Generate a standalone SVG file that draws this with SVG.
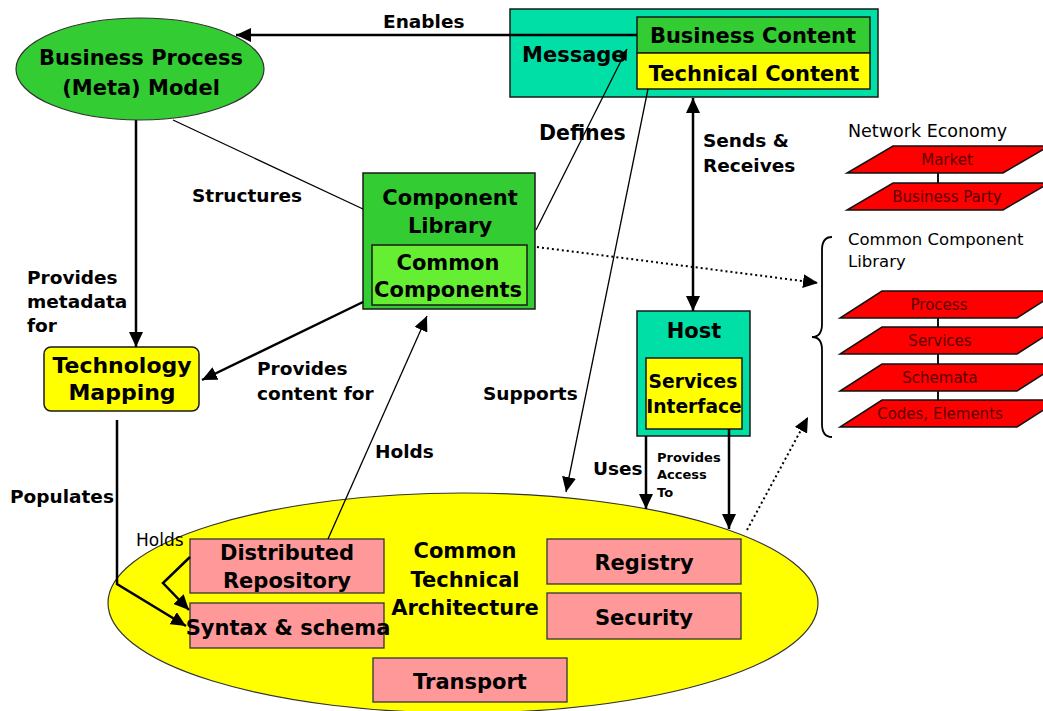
<svg xmlns="http://www.w3.org/2000/svg" width="1043" height="711" viewBox="0 0 1043 711">
  <style>
    .b { font-family: "DejaVu Sans", Verdana, sans-serif; font-weight: bold; fill: #000; }
    .r { font-family: "DejaVu Sans", Verdana, sans-serif; font-weight: normal; fill: #000; }
    .node { font-size: 21px; }
    .lbl { font-size: 18.5px; }
    .mid { text-anchor: middle; }
    .layer { font-family: "DejaVu Sans", Verdana, sans-serif; font-size: 15px; fill: #5a0000; text-anchor: middle; }
    .box { stroke: #1a1a1a; stroke-width: 1.5; }
    .pink { fill: #ff9999; stroke: #333; stroke-width: 1.3; }
    .para { fill: #ff0000; stroke: #111; stroke-width: 1.5; }
    .thick { stroke: #000; stroke-width: 2.5; fill: none; }
    .thin { stroke: #000; stroke-width: 1.3; fill: none; }
    .dot { stroke: #000; stroke-width: 2; fill: none; stroke-dasharray: 2 3; }
  </style>
  <defs>
    <marker id="arr" markerUnits="userSpaceOnUse" markerWidth="16" markerHeight="14" refX="15" refY="7" orient="auto-start-reverse">
      <path d="M0,0 L15,7 L0,14 z" fill="#000"/>
    </marker>
    <marker id="arrS" markerUnits="userSpaceOnUse" markerWidth="12" markerHeight="10" refX="11" refY="5" orient="auto">
      <path d="M0,0 L11,5 L0,10 z" fill="#000"/>
    </marker>
  </defs>

  <rect width="1043" height="711" fill="#fff"/>

  <!-- Common Technical Architecture (background ellipse) -->
  <g id="cta">
    <ellipse cx="463" cy="603" rx="355" ry="110" fill="#ffff00" stroke="#333" stroke-width="1.2"/>
    <text class="b node mid" x="465" y="558">Common</text>
    <text class="b node mid" x="465" y="587">Technical</text>
    <text class="b node mid" x="465" y="615">Architecture</text>
  </g>
  <g id="distributed-repository">
    <rect class="pink" x="190" y="539" width="194" height="54"/>
    <text class="b node mid" x="287" y="560">Distributed</text>
    <text class="b node mid" x="287" y="588">Repository</text>
  </g>
  <g id="syntax-schema">
    <rect class="pink" x="190" y="603" width="194" height="45"/>
    <text class="b node mid" x="288" y="635">Syntax &amp; schema</text>
  </g>
  <g id="registry">
    <rect class="pink" x="547" y="539" width="194" height="45"/>
    <text class="b node mid" x="644" y="570">Registry</text>
  </g>
  <g id="security">
    <rect class="pink" x="547" y="593" width="194" height="46"/>
    <text class="b node mid" x="644" y="625">Security</text>
  </g>
  <g id="transport">
    <rect class="pink" x="373" y="658" width="194" height="44"/>
    <text class="b node mid" x="470" y="689">Transport</text>
  </g>

  <!-- Business Process (Meta) Model -->
  <g id="bpm">
    <ellipse cx="140" cy="69" rx="124" ry="51" fill="#33cc33" stroke="#333" stroke-width="1.2"/>
    <text class="b node mid" x="141" y="65">Business Process</text>
    <text class="b node mid" x="141" y="95">(Meta) Model</text>
  </g>

  <!-- Message -->
  <g id="message">
    <rect class="box" x="510" y="9" width="368" height="88" fill="#00e0a6"/>
    <text class="b node" x="522" y="62" font-size="20.5">Message</text>
    <rect class="box" x="637" y="17" width="233" height="36" fill="#33cc33"/>
    <rect class="box" x="637" y="53" width="233" height="36" fill="#ffff00"/>
    <text class="b node mid" x="753" y="43">Business Content</text>
    <text class="b node mid" x="754" y="81">Technical Content</text>
  </g>

  <!-- Component Library -->
  <g id="component-library">
    <rect class="box" x="363" y="173" width="172" height="136" fill="#33cc33" stroke-width="2"/>
    <text class="b node mid" x="450" y="205">Component</text>
    <text class="b node mid" x="450" y="233">Library</text>
    <rect class="box" x="372" y="245" width="155" height="60" fill="#66ee33" stroke-width="2"/>
    <text class="b node mid" x="448" y="270">Common</text>
    <text class="b node mid" x="448" y="297">Components</text>
  </g>

  <!-- Technology Mapping -->
  <g id="technology-mapping">
    <rect class="box" x="44" y="347" width="155" height="64" rx="7" fill="#ffff00"/>
    <text class="b mid" x="122" y="373" font-size="22">Technology</text>
    <text class="b mid" x="122" y="400" font-size="22">Mapping</text>
  </g>

  <!-- Host -->
  <g id="host">
    <rect class="box" x="637" y="311" width="113" height="125" fill="#00e0a6"/>
    <text class="b node mid" x="694" y="338">Host</text>
    <rect class="box" x="646" y="358" width="96" height="71" fill="#ffff00"/>
    <text class="b mid" x="693" y="388" font-size="18.7">Services</text>
    <text class="b mid" x="694" y="413" font-size="18.7">Interface</text>
  </g>

  <!-- Network Economy stack -->
  <g id="network-economy">
    <text class="r" x="848" y="137" font-size="17.5">Network Economy</text>
    <line x1="938" y1="173" x2="938" y2="183" stroke="#111" stroke-width="2"/>
    <polygon class="para" points="893,146 1049,146 1003,173 847,173"/>
    <polygon class="para" points="893,183 1049,183 1003,210 847,210"/>
    <text class="layer" x="947" y="165">Market</text>
    <text class="layer" x="947" y="202">Business Party</text>
  </g>

  <!-- Common Component Library stack -->
  <g id="common-component-library">
    <text class="r" x="848" y="245" font-size="16.5">Common Component</text>
    <text class="r" x="848" y="267" font-size="16.5">Library</text>
    <path d="M832,237 Q822,237 822,250 L822,324 Q822,337 812,337 Q822,337 822,350 L822,424 Q822,437 832,437" fill="none" stroke="#000" stroke-width="1.8"/>
    <line x1="938" y1="318" x2="938" y2="400" stroke="#111" stroke-width="2"/>
    <polygon class="para" points="882,291 1059,291 1017,318 840,318"/>
    <polygon class="para" points="882,327 1059,327 1017,354 840,354"/>
    <polygon class="para" points="882,364 1059,364 1017,391 840,391"/>
    <polygon class="para" points="882,400 1059,400 1017,427 840,427"/>
    <text class="layer" x="939" y="310">Process</text>
    <text class="layer" x="940" y="346">Services</text>
    <text class="layer" x="940" y="383">Schemata</text>
    <text class="layer" x="940" y="419">Codes, Elements</text>
  </g>

  <!-- Connectors -->
  <g id="connectors">
    <line class="thick" x1="637" y1="35" x2="236" y2="35" marker-end="url(#arr)"/>
    <line class="thick" x1="136" y1="120" x2="136" y2="347" marker-end="url(#arr)"/>
    <line class="thin" x1="173" y1="120" x2="363" y2="209"/>
    <line class="thin" x1="536" y1="230" x2="627" y2="49" marker-end="url(#arrS)"/>
    <line class="thin" x1="648" y1="89" x2="566" y2="492" marker-end="url(#arr)"/>
    <line class="thick" x1="693" y1="98" x2="693" y2="311" marker-start="url(#arr)" marker-end="url(#arr)"/>
    <line class="dot" x1="537" y1="247" x2="818" y2="283" marker-end="url(#arr)"/>
    <line class="thick" x1="363" y1="302" x2="202" y2="380" marker-end="url(#arr)"/>
    <line class="thin" x1="328" y1="539" x2="427" y2="316" marker-end="url(#arr)"/>
    <polyline class="thick" points="117,420 117,584 186,626" marker-end="url(#arr)"/>
    <polyline class="thick" points="190,557 163,583 189,610" marker-end="url(#arr)"/>
    <line class="thick" x1="646" y1="436" x2="646" y2="509" marker-end="url(#arr)"/>
    <line class="thick" x1="729" y1="429" x2="729" y2="529" marker-end="url(#arr)"/>
    <line class="dot" x1="747" y1="530" x2="808" y2="417" marker-end="url(#arr)"/>
  </g>

  <!-- Connector labels -->
  <g id="labels">
    <text class="b lbl" x="383" y="28">Enables</text>
    <text class="b" x="539" y="140" font-size="20.5">Defines</text>
    <text class="b lbl" x="703" y="147">Sends &amp;</text>
    <text class="b lbl" x="703" y="172">Receives</text>
    <text class="b lbl" x="192" y="202">Structures</text>
    <text class="b lbl" x="27" y="284">Provides</text>
    <text class="b lbl" x="27" y="308">metadata</text>
    <text class="b lbl" x="27" y="332">for</text>
    <text class="b lbl" x="257" y="375">Provides</text>
    <text class="b lbl" x="257" y="400">content for</text>
    <text class="b lbl" x="483" y="400">Supports</text>
    <text class="b lbl" x="375" y="458">Holds</text>
    <text class="b lbl" x="10" y="503">Populates</text>
    <text class="r" x="136" y="546" font-size="17">Holds</text>
    <text class="b lbl" x="593" y="475">Uses</text>
    <text class="b" x="657" y="462" font-size="13">Provides</text>
    <text class="b" x="657" y="479" font-size="13">Access</text>
    <text class="b" x="657" y="497" font-size="13">To</text>
  </g>
</svg>
